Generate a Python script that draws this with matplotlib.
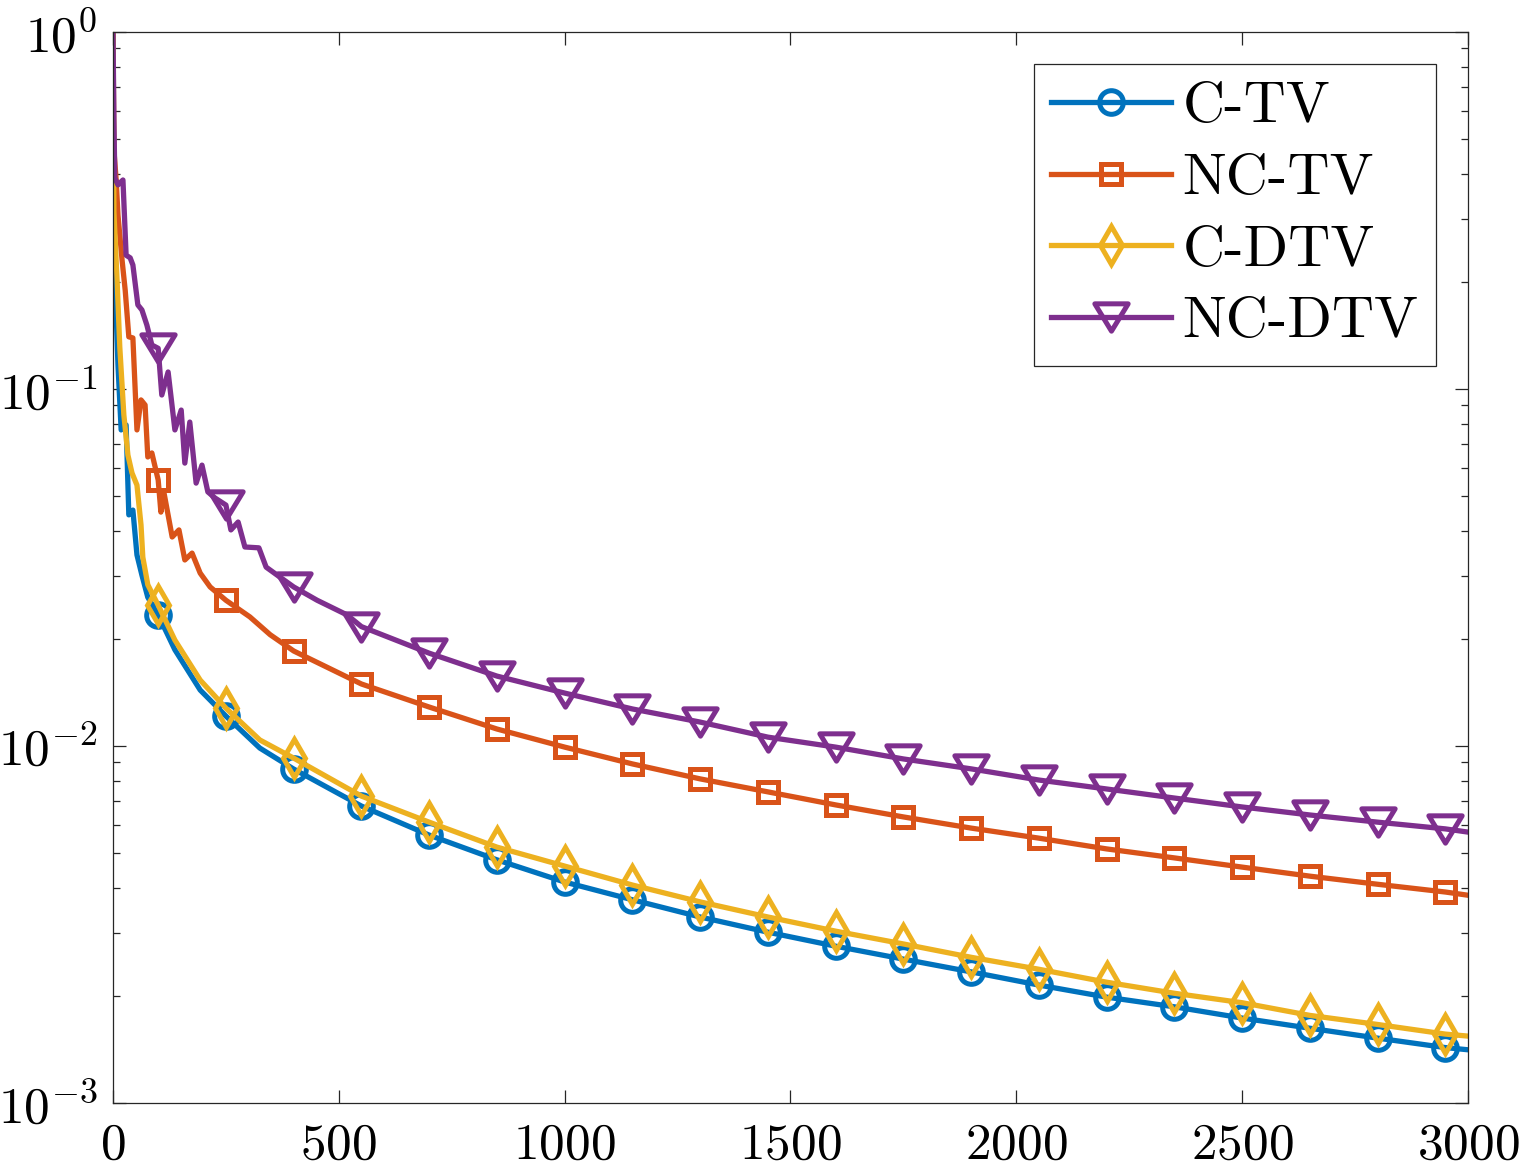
import numpy as np
import matplotlib
matplotlib.use("Agg")
import matplotlib.pyplot as plt
from matplotlib.path import Path

# iterations where the markers sit (same for every curve)
marker_iters = [100, 250, 400, 550, 700, 850, 1000, 1150, 1300, 1450,
                1600, 1750, 1900, 2050, 2200, 2350, 2500, 2650, 2800, 2950]

# C-TV
ctv_it = [0, 1, 2, 7, 11, 18, 29, 35, 44, 53, 64, 77, 100, 137, 193, 250, 325,
          400, 550, 700, 850, 1000, 1150, 1300, 1450, 1600, 1750, 1900, 2050,
          2200, 2350, 2500, 2650, 2800, 2950, 3000]
ctv_val = [1.0, 0.385, 0.189, 0.163, 0.1167, 0.0768, 0.0793, 0.0444, 0.0458,
           0.0343, 0.0301, 0.0261, 0.0233, 0.0186, 0.01435, 0.01213, 0.00987,
           0.00862, 0.00679, 0.00563, 0.0048, 0.00416, 0.00371, 0.00332,
           0.00301, 0.00275, 0.00253, 0.00233, 0.00214, 0.00198, 0.00186,
           0.00173, 0.00162, 0.00152, 0.00143, 0.00141]

# NC-TV
nctv_it = [0, 2, 7, 11, 20, 27, 35, 44, 53, 62, 71, 77, 86, 100, 106, 113, 131,
           146, 159, 175, 193, 215, 250, 303, 348,
           400, 550, 700, 850, 1000, 1150, 1300, 1450, 1600, 1750, 1900, 2050,
           2200, 2350, 2500, 2650, 2800, 2950, 3000]
nctv_val = [1.0, 0.467, 0.385, 0.307, 0.230, 0.189, 0.140, 0.139, 0.0768,
            0.0932, 0.0902, 0.0645, 0.0662, 0.0556, 0.0452, 0.0511, 0.0385,
            0.0403, 0.0332, 0.0347, 0.0305, 0.0279, 0.0256, 0.0230, 0.0205,
            0.01846, 0.01492, 0.01286, 0.01116, 0.00993, 0.00891, 0.00809,
            0.00744, 0.00684, 0.00633, 0.00589, 0.00552, 0.00515, 0.00486,
            0.00458, 0.00432, 0.0041, 0.0039, 0.00382]

# C-DTV
cdtv_it = [0, 1, 2, 9, 15, 24, 33, 42, 53, 62, 66, 77, 100, 137, 193, 250, 325,
           400, 550, 700, 850, 1000, 1150, 1300, 1450, 1600, 1750, 1900, 2050,
           2200, 2350, 2500, 2650, 2800, 2950, 3000]
cdtv_val = [1.0, 0.515, 0.313, 0.202, 0.131, 0.0846, 0.0653, 0.0582, 0.0538,
            0.0416, 0.0338, 0.0283, 0.0248, 0.0198, 0.0153, 0.01277, 0.0104,
            0.00925, 0.00724, 0.00612, 0.00521, 0.00461, 0.00408, 0.00366,
            0.00332, 0.00303, 0.00279, 0.00256, 0.00237, 0.00218, 0.00203,
            0.00191, 0.00176, 0.00166, 0.00156, 0.00154]

# NC-DTV
ncdtv_it = [0, 2, 4, 11, 22, 29, 38, 44, 55, 64, 75, 86, 100, 108, 122, 137,
            151, 159, 170, 184, 197, 210, 226, 250, 261, 277, 292, 323, 339,
            370, 400, 452, 518,
            550, 700, 850, 1000, 1150, 1300, 1450, 1600, 1750, 1900, 2050,
            2200, 2350, 2500, 2650, 2800, 2950, 3000]
ncdtv_val = [1.0, 0.567, 0.390, 0.373, 0.385, 0.237, 0.233, 0.2225, 0.172,
             0.1665, 0.151, 0.1328, 0.130, 0.0962, 0.1116, 0.0768, 0.0873,
             0.0620, 0.0808, 0.0545, 0.0612, 0.0515, 0.0495, 0.0473, 0.0403,
             0.0424, 0.0361, 0.0359, 0.0317, 0.0297, 0.0279, 0.0256, 0.0233,
             0.0216, 0.0182, 0.0157, 0.01407, 0.0127, 0.01167, 0.01059,
             0.00993, 0.0092, 0.00863, 0.00803, 0.00758, 0.00715, 0.00675,
             0.00641, 0.00612, 0.00586, 0.00574]

labels = ['C-TV', 'NC-TV', 'C-DTV', 'NC-DTV']
colors = ['#0072BD', '#D95319', '#EDB120', '#7E2F8E']

plt.rcParams['font.family'] = 'serif'
plt.rcParams['font.serif'] = ['cmr10']
plt.rcParams['mathtext.fontset'] = 'cm'
plt.rcParams['axes.formatter.use_mathtext'] = True

# squat downward triangle like MATLAB's 'v'
tri = Path([(-1.0, 0.82), (1.0, 0.82), (0.0, -0.82), (-1.0, 0.82)],
           [Path.MOVETO, Path.LINETO, Path.LINETO, Path.CLOSEPOLY])

series = [
    (ctv_it, ctv_val, 'o', 17.0),
    (nctv_it, nctv_val, 's', 15.0),
    (cdtv_it, cdtv_val, 'd', 19.0),
    (ncdtv_it, ncdtv_val, tri, 24.0),
]

fig = plt.figure(figsize=(15.19, 11.67), dpi=100)
ax = fig.add_axes([0.0744, 0.0548, 0.8920, 0.9178])

for (it, val, mk, ms), lab, col in zip(series, labels, colors):
    it = np.array(it)
    mask = list(np.isin(it, marker_iters))
    ax.plot(it, val, color=col, lw=3.8, marker=mk, markersize=ms,
            markerfacecolor='none', markeredgecolor=col, markeredgewidth=3.6,
            markevery=mask, label=lab)

ax.set_yscale('log')
ax.set_xlim(0, 3000)
ax.set_ylim(1e-3, 1e0)
ax.set_xticks([0, 500, 1000, 1500, 2000, 2500, 3000])

ax.tick_params(which='both', direction='in', top=True, right=True,
               labelsize=37, color='#262626')
ax.tick_params(which='major', length=9.5, width=0.9)
ax.tick_params(which='minor', length=5, width=0.9)
ax.tick_params(axis='x', pad=14)
ax.tick_params(axis='y', pad=11)
for s in ax.spines.values():
    s.set_linewidth(0.9)
    s.set_color('#262626')

leg = ax.legend(loc='upper right', fontsize=42, fancybox=False,
                edgecolor='#262626', framealpha=1, handlelength=2.05,
                handletextpad=0.2, labelspacing=0.34, borderaxespad=0.55,
                borderpad=0.3)
leg.get_frame().set_linewidth(0.9)

fig.savefig('out.png', dpi=100)
